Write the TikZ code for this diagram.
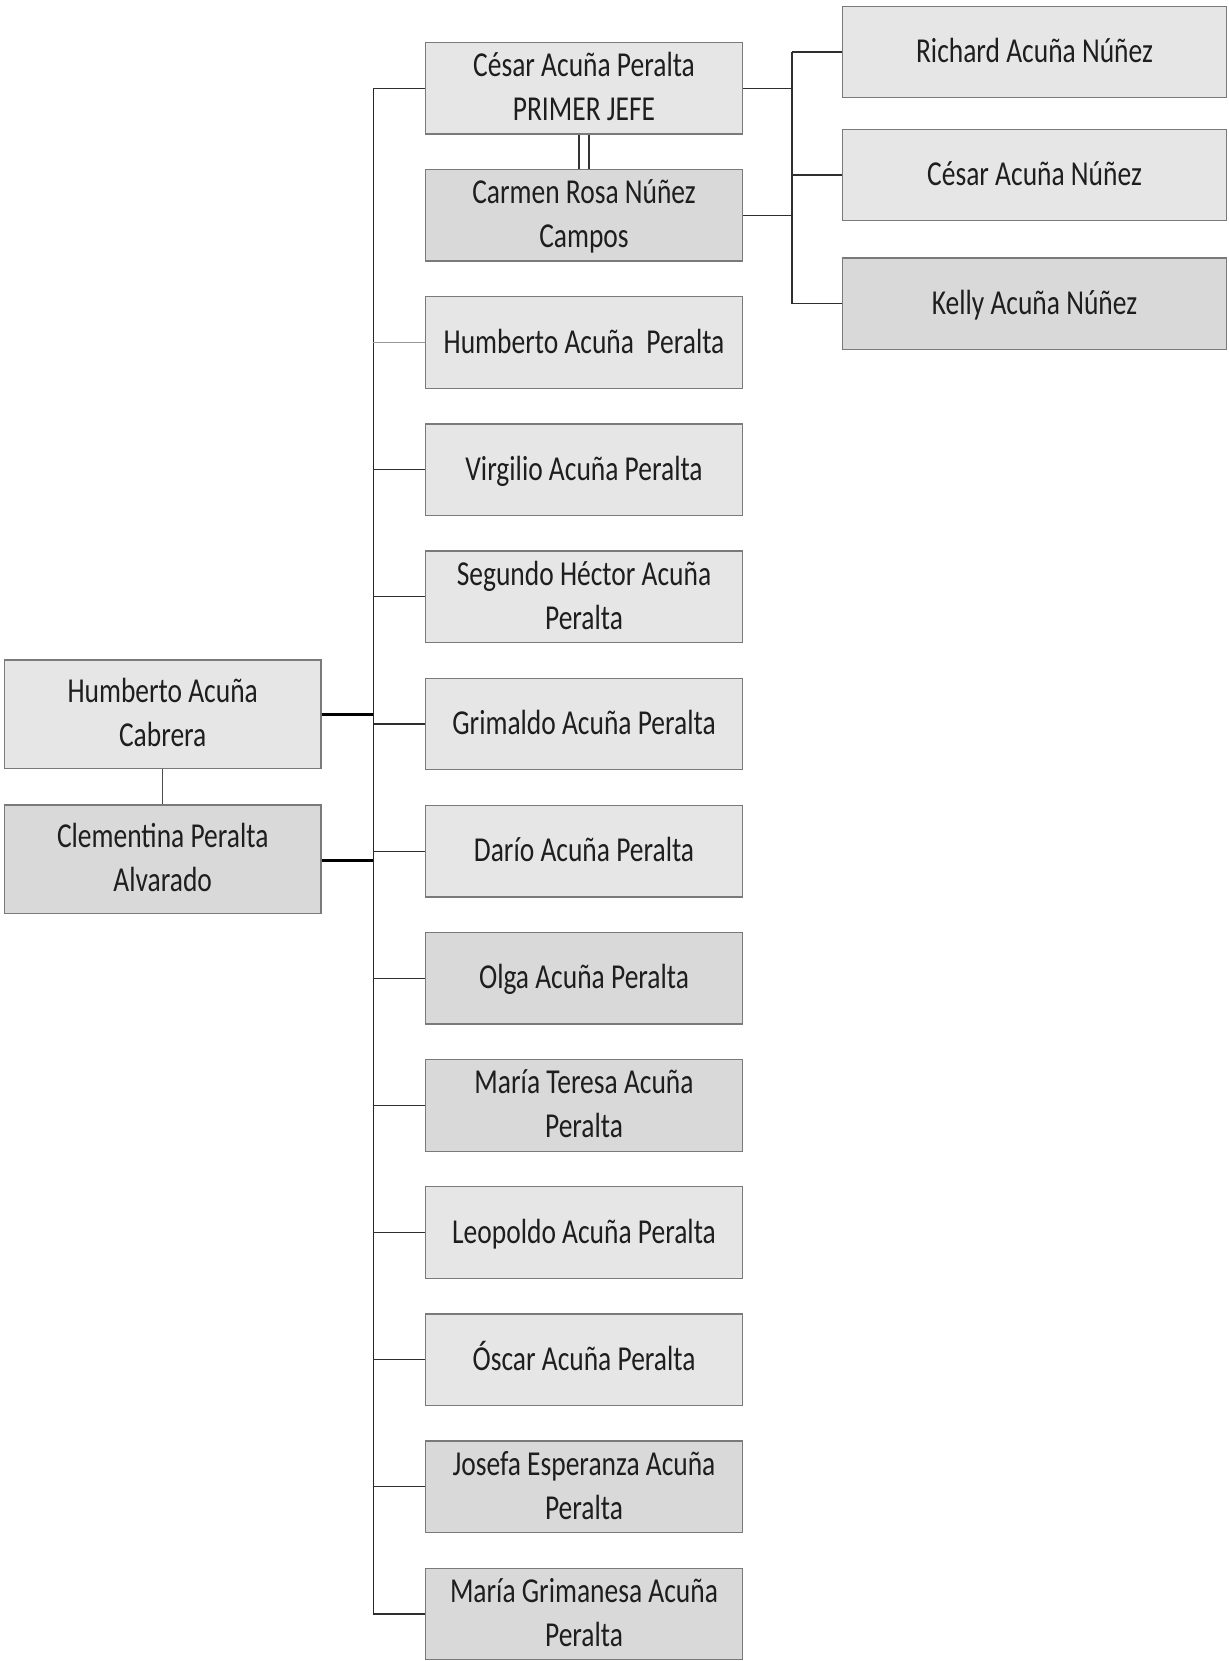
\documentclass[tikz,border=0pt]{standalone}
\usepackage{fontspec}
\setmainfont{Carlito}[FakeStretch=0.785]
\definecolor{ink}{HTML}{1E1E1E}
\definecolor{boxline}{HTML}{7A7A7A}
\definecolor{lightfill}{HTML}{E6E6E6}
\definecolor{darkfill}{HTML}{D9D9D9}
\definecolor{wire}{HTML}{2E2E2E}
% strut giving every text line the same height and depth
\newcommand\rowstrut{\rule[-0.30em]{0pt}{1.2em}}
\newcommand\oneline[1]{\rowstrut#1}
\newcommand\twolines[2]{\rowstrut#1\\\rowstrut#2}
\begin{document}
\begin{tikzpicture}[x=1pt,y=-1pt,
  member/.style={draw=boxline, line width=1.3pt, inner sep=0pt, align=center,
    minimum width=317pt, minimum height=91.5pt, text=ink,
    font=\fontsize{35}{44}\selectfont},
  lightbox/.style={member, fill=lightfill},
  darkbox/.style={member, fill=darkfill},
  widebox/.style={minimum width=384.4pt},
  parentbox/.style={minimum width=316.7pt, minimum height=108.3pt},
  link/.style={draw=wire, line width=1.2pt},
  faintlink/.style={draw=black!40, line width=1.2pt},
  trunkline/.style={draw=black!85, line width=1.6pt},
  parentlink/.style={draw=black, line width=2.6pt},
  marriage/.style={draw=black!70, line width=1.4pt},
  wedding/.style={draw=black!80, line width=2.7pt}]

\fill[white] (0,0) rectangle (1228,1661);
\useasboundingbox (0,0) rectangle (1228,1661);

% parents
\node[lightbox, parentbox] (hac) at (162.7,714.2) {\twolines{Humberto Acuña}{Cabrera}};
\node[darkbox, parentbox]  (cpa) at (162.7,859.2) {\twolines{Clementina Peralta}{Alvarado}};

% children column
\node[lightbox] (cap)   at (584,88.2)    {\twolines{César Acuña Peralta}{PRIMER JEFE}};
\node[darkbox]  (carm)  at (584,215.35)  {\twolines{Carmen Rosa Núñez}{Campos}};
\node[lightbox] (hap)   at (584,342.5)   {\oneline{Humberto Acuña\ \ Peralta}};
\node[lightbox] (vap)   at (584,469.65)  {\oneline{Virgilio Acuña Peralta}};
\node[lightbox] (shap)  at (584,596.8)   {\twolines{Segundo Héctor Acuña}{Peralta}};
\node[lightbox] (gap)   at (584,723.95)  {\oneline{Grimaldo Acuña Peralta}};
\node[lightbox] (dap)   at (584,851.1)   {\oneline{Darío Acuña Peralta}};
\node[darkbox]  (oap)   at (584,978.25)  {\oneline{Olga Acuña Peralta}};
\node[darkbox]  (mtap)  at (584,1105.4)  {\twolines{María Teresa Acuña}{Peralta}};
\node[lightbox] (lap)   at (584,1232.55) {\oneline{Leopoldo Acuña Peralta}};
\node[lightbox] (osap)  at (584,1359.7)  {\oneline{Óscar Acuña Peralta}};
\node[darkbox]  (jeap)  at (584,1486.85) {\twolines{Josefa Esperanza Acuña}{Peralta}};
\node[darkbox]  (mgap)  at (584,1614)    {\twolines{María Grimanesa Acuña}{Peralta}};

% grandchildren
\node[lightbox, widebox] (ran) at (1034.5,52)    {\oneline{Richard Acuña Núñez}};
\node[lightbox, widebox] (can) at (1034.5,175)   {\oneline{César Acuña Núñez}};
\node[darkbox,  widebox] (kan) at (1034.5,303.8) {\oneline{Kelly Acuña Núñez}};

% branching columns
\coordinate (trunk) at (373.3,0);
\coordinate (fork)  at (792,0);

% parents' marriage and the line down to the children
\draw[marriage] (hac.south) -- (cpa.north);
\draw[trunkline] (cap.west -| trunk) -- (mgap.west -| trunk);
\draw[parentlink] (hac.east) -- (hac.east -| trunk);
\draw[parentlink] ([yshift=-1.5pt]cpa.east) -- ([yshift=-1.5pt]cpa.east -| trunk);

\foreach \n in {cap,vap,shap,gap,dap,oap,mtap,lap,osap,jeap,mgap}
  \draw[link] (\n.west -| trunk) -- (\n.west);
\draw[faintlink] (hap.west -| trunk) -- (hap.west);

% César and Carmen
\draw[wedding] ([xshift=-5pt]cap.south) -- ([xshift=-5pt]carm.north);
\draw[wedding] ([xshift=5pt]cap.south) -- ([xshift=5pt]carm.north);

\draw[link] (cap.east) -- (cap.east -| fork);
\draw[link] (carm.east) -- (carm.east -| fork);
\draw[link] (ran.west -| fork) -- (kan.west -| fork);
\foreach \n in {ran,can,kan}
  \draw[link] (\n.west -| fork) -- (\n.west);
\end{tikzpicture}
\end{document}
